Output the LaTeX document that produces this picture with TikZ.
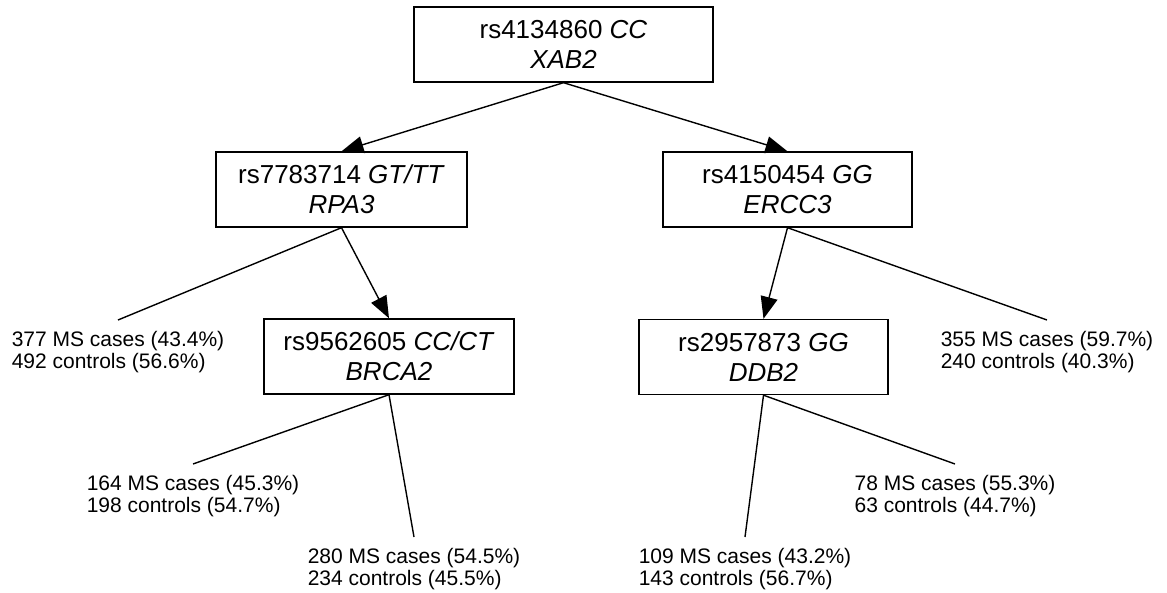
\documentclass[tikz,border=0pt]{standalone}
\usepackage{fontspec}
\setmainfont{Liberation Sans}
\usetikzlibrary{arrows.meta}
\begin{document}
\begin{tikzpicture}[x=1pt,y=-1pt,
 snpbox/.style={draw, line width=1.4pt, minimum height=75pt, inner sep=0pt, align=center, font=\fontsize{26}{30}\selectfont},
 leaf/.style={align=left, inner xsep=0pt, inner ysep=11pt, anchor=north, font=\fontsize{21}{21.8}\selectfont},
 arr/.style={line width=1.4pt, -{Triangle[length=22pt,width=17pt]}},
 ln/.style={line width=1.4pt}]
\useasboundingbox (0,0) rectangle (1167,593);
% boxes
\node[snpbox, minimum width=299pt] (top) at (563.5,44.5) {rs4134860 \textit{CC}\\ \textit{XAB2}};
\node[snpbox, minimum width=251pt] (rpa) at (341.5,189.5) {rs7783714 \textit{GT/TT}\\ \textit{RPA3}};
\node[snpbox, minimum width=249pt] (ercc) at (787.5,189.5) {rs4150454 \textit{GG}\\ \textit{ERCC3}};
\node[snpbox, minimum width=250pt] (brca) at (389,356.5) {rs9562605 \textit{CC/CT}\\ \textit{BRCA2}};
\node[snpbox, minimum width=249pt] (ddb) at (763.5,357) {rs2957873 \textit{GG}\\ \textit{DDB2}};
% leaves
\node[leaf] (l1) at (118,320) {377 MS cases (43.4\%)\\492 controls (56.6\%)};
\node[leaf] (l2) at (193,464) {164 MS cases (45.3\%)\\198 controls (54.7\%)};
\node[leaf] (l3) at (414,537) {280 MS cases (54.5\%)\\234 controls (45.5\%)};
\node[leaf] (l4) at (745,537) {109 MS cases (43.2\%)\\143 controls (56.7\%)};
\node[leaf] (l5) at (955,464) {78 MS cases (55.3\%)\\63 controls (44.7\%)};
\node[leaf] (l6) at (1047,320) {355 MS cases (59.7\%)\\240 controls (40.3\%)};
% arrows
\draw[arr] (top.south) -- (rpa.north);
\draw[arr] (top.south) -- (ercc.north);
\draw[arr] (rpa.south) -- (brca.north);
\draw[arr] (ercc.south) -- (ddb.north);
% plain lines
\draw[ln] (rpa.south) -- (l1.north);
\draw[ln] (brca.south) -- (l2.north);
\draw[ln] (brca.south) -- (l3.north);
\draw[ln] (ddb.south) -- (l4.north);
\draw[ln] (ddb.south) -- (l5.north);
\draw[ln] (ercc.south) -- (l6.north);
\end{tikzpicture}
\end{document}
